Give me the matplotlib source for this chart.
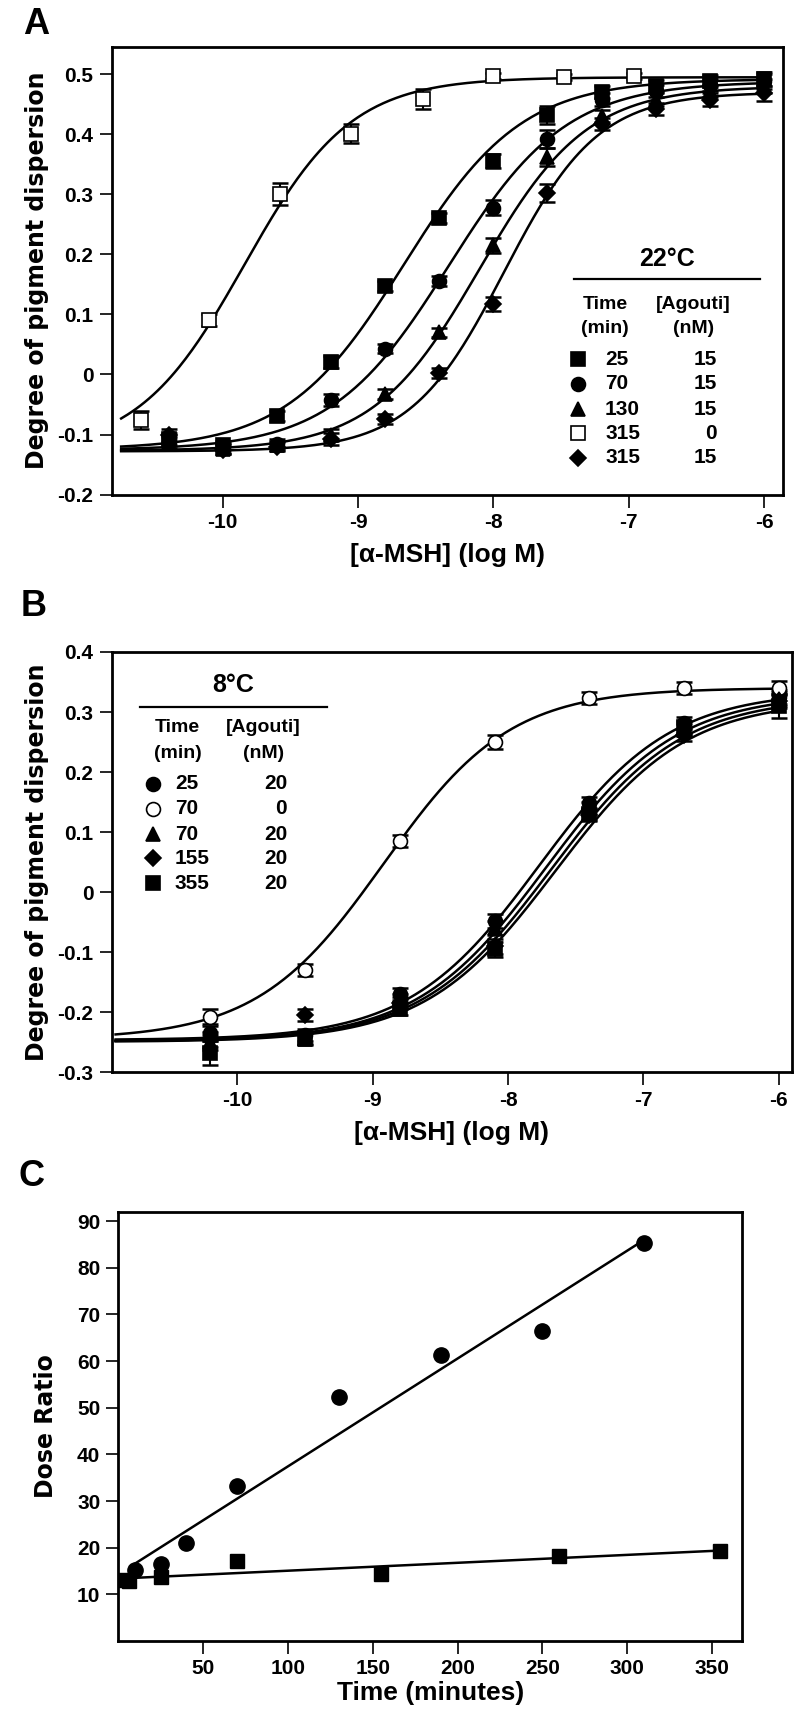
import numpy as np
import matplotlib.pyplot as plt
from matplotlib.ticker import FuncFormatter

plt.rcParams['font.family'] = ['Liberation Sans', 'DejaVu Sans']
plt.rcParams['font.weight'] = 'bold'
plt.rcParams['axes.unicode_minus'] = False

# ---------------- panel A (22 C) ----------------
xa = [-10.4, -10.0, -9.6, -9.2, -8.8, -8.4, -8.0, -7.6, -7.2, -6.8, -6.4, -6.0]
a_sq = [-0.108, -0.118, -0.069, 0.02, 0.147, 0.261, 0.356, 0.433, 0.47, 0.48, 0.488, 0.492]
a_ci = [-0.112, -0.122, -0.115, -0.043, 0.043, 0.156, 0.278, 0.392, 0.458, 0.472, 0.482, 0.488]
a_tr = [-0.115, -0.124, -0.118, -0.1, -0.033, 0.07, 0.215, 0.363, 0.43, 0.458, 0.472, 0.48]
a_di = [-0.1, -0.125, -0.12, -0.108, -0.074, 0.002, 0.117, 0.302, 0.418, 0.442, 0.458, 0.468]
a_err = [0.01, 0.008, 0.008, 0.01, 0.008, 0.008, 0.012, 0.015, 0.01, 0.01, 0.01, 0.012]
xa_open = [-10.6, -10.1, -9.58, -9.05, -8.52, -8.0, -7.48, -6.96]
a_open = [-0.075, 0.09, 0.301, 0.401, 0.459, 0.497, 0.495, 0.497]
a_open_err = [0.015, 0.01, 0.018, 0.016, 0.017, 0.005, 0.005, 0.005]

# fitted curves: bottom, top, logEC50, hill   (order: sq, ci, tr, open, di)
a_bottom = [-0.125, -0.126, -0.127, -0.13, -0.128]
a_top = [0.492, 0.488, 0.48, 0.495, 0.47]
a_ec50 = [-8.66, -8.33, -8.1, -9.84, -7.92]
a_hill = [1.0, 1.0, 1.1, 1.1, 1.25]

a_times = ['25', '70', '130', '315', '315']
a_agouti = ['15', '15', '15', '0', '15']

# ---------------- panel B (8 C) ----------------
xb = [-10.2, -9.5, -8.8, -8.1, -7.4, -6.7, -6.0]
b_ci = [-0.235, -0.237, -0.17, -0.048, 0.148, 0.282, 0.325]
b_open = [-0.207, -0.129, 0.085, 0.25, 0.324, 0.34, 0.34]
b_tr = [-0.25, -0.245, -0.18, -0.06, 0.14, 0.27, 0.322]
b_di = [-0.245, -0.205, -0.185, -0.09, 0.128, 0.262, 0.318]
b_sq = [-0.268, -0.242, -0.195, -0.095, 0.13, 0.275, 0.31]
b_err = [0.012, 0.01, 0.01, 0.012, 0.01, 0.01, 0.012]
b_sq_err = [0.02, 0.01, 0.01, 0.012, 0.01, 0.01, 0.02]

# order: ci, open, tr, di, sq
b_bottom = [-0.246, -0.245, -0.248, -0.248, -0.249]
b_top = [0.335, 0.34, 0.33, 0.325, 0.32]
b_ec50 = [-7.77, -8.92, -7.72, -7.68, -7.65]
b_hill = [0.9, 0.93, 0.9, 0.9, 0.9]

b_times = ['25', '70', '70', '155', '355']
b_agouti = ['20', '0', '20', '20', '20']

# ---------------- panel C ----------------
c_ci_t = [10, 25, 40, 70, 130, 190, 250, 310]
c_ci = [15.3, 16.5, 21.0, 33.3, 52.3, 61.3, 66.5, 85.3]
c_sq_t = [3, 6, 25, 70, 155, 260, 355]
c_sq = [13.0, 12.8, 13.7, 17.1, 14.3, 18.3, 19.3]


def logistic(x, bottom, top, ec50, hill):
    return bottom + (top - bottom) / (1 + 10 ** ((ec50 - x) * hill))


def style_axes(ax):
    for s in ax.spines.values():
        s.set_linewidth(2.0)
    ax.tick_params(direction='out', length=9, width=1.2, labelsize=15, pad=4)
    for lbl in ax.get_xticklabels() + ax.get_yticklabels():
        lbl.set_fontweight('bold')


def fmt_tick(v, pos):
    if abs(v) < 1e-9:
        return '0'
    return f'{v:.1f}'


def legend_block(ax, title, x_mark, x_num, x_ag, y_title, y_line, x_line, y_head, rows_y,
                 markers, times, agouti):
    ax.text(np.mean(x_line), y_title, title, transform=ax.transAxes, ha='center', va='center',
            fontsize=18, fontweight='bold')
    ax.plot(x_line, [y_line, y_line], transform=ax.transAxes, color='k', lw=1.6, clip_on=False)
    xt = (x_mark + x_num) / 2 + 0.02
    ax.text(xt, y_head[0], 'Time', transform=ax.transAxes, ha='center', va='center', fontsize=14, fontweight='bold')
    ax.text(xt, y_head[1], '(min)', transform=ax.transAxes, ha='center', va='center', fontsize=14, fontweight='bold')
    ax.text(x_ag - 0.035, y_head[0], '[Agouti]', transform=ax.transAxes, ha='center', va='center', fontsize=14, fontweight='bold')
    ax.text(x_ag - 0.035, y_head[1], '(nM)', transform=ax.transAxes, ha='center', va='center', fontsize=14, fontweight='bold')
    for (m, fc), t, a, yy in zip(markers, times, agouti, rows_y):
        ax.plot([x_mark], [yy], transform=ax.transAxes, marker=m, ms=10 if m != 'D' else 8,
                mfc=fc, mec='k', mew=1.2, ls='none', clip_on=False)
        ax.text(x_num, yy, t, transform=ax.transAxes, ha='left', va='center', fontsize=15, fontweight='bold')
        ax.text(x_ag, yy, a, transform=ax.transAxes, ha='right', va='center', fontsize=15, fontweight='bold')


fig = plt.figure(figsize=(8, 17.22), dpi=100)

# ================= A =================
axA = fig.add_axes([0.1396, 0.7128, 0.8391, 0.2601])
xx = np.linspace(-10.75, -6.0, 300)
a_series = [(a_sq, 's', 'k', a_err), (a_ci, 'o', 'k', a_err), (a_tr, '^', 'k', a_err),
            (a_open, 's', 'white', a_open_err), (a_di, 'D', 'k', a_err)]
for i, (yv, m, fc, err) in enumerate(a_series):
    axA.plot(xx, logistic(xx, a_bottom[i], a_top[i], a_ec50[i], a_hill[i]), color='k', lw=1.8, zorder=2)
    xs = xa_open if fc == 'white' else xa
    axA.errorbar(xs, yv, yerr=err, fmt='none', ecolor='k', elinewidth=1.5, capsize=6, capthick=1.8, zorder=3)
    axA.plot(xs, yv, ls='none', marker=m, ms=10 if m != 'D' else 8, mfc=fc, mec='k', mew=1.2, zorder=4)

axA.set_xlim(-10.82, -5.86)
axA.set_ylim(-0.2, 0.546)
axA.set_xticks([-10, -9, -8, -7, -6])
axA.set_yticks([-0.2, -0.1, 0, 0.1, 0.2, 0.3, 0.4, 0.5])
axA.yaxis.set_major_formatter(FuncFormatter(fmt_tick))
axA.set_xticklabels(['-10', '-9', '-8', '-7', '-6'])
style_axes(axA)
axA.set_xlabel('[\u03b1-MSH] (log M)', fontsize=19, fontweight='bold', labelpad=8)
axA.set_ylabel('Degree of pigment dispersion', fontsize=17, fontweight='bold',
               family=['DejaVu Sans'], labelpad=6)

legend_block(axA, '22\u00b0C', 0.695, 0.735, 0.902, 0.526, 0.481, [0.689, 0.966],
             [0.425, 0.370], [0.302, 0.247, 0.191, 0.137, 0.082],
             [('s', 'k'), ('o', 'k'), ('^', 'k'), ('s', 'white'), ('D', 'k')],
             a_times, a_agouti)

# ================= B =================
axB = fig.add_axes([0.1394, 0.3772, 0.851, 0.2442])
xx = np.linspace(-10.9, -6.0, 300)
b_series = [(b_ci, 'o', 'k', b_err), (b_open, 'o', 'white', b_err), (b_tr, '^', 'k', b_err),
            (b_di, 'D', 'k', b_err), (b_sq, 's', 'k', b_sq_err)]
for i, (yv, m, fc, err) in enumerate(b_series):
    axB.plot(xx, logistic(xx, b_bottom[i], b_top[i], b_ec50[i], b_hill[i]), color='k', lw=1.8, zorder=2)
    axB.errorbar(xb, yv, yerr=err, fmt='none', ecolor='k', elinewidth=1.5, capsize=6, capthick=1.8, zorder=3)
    axB.plot(xb, yv, ls='none', marker=m, ms=10 if m != 'D' else 8, mfc=fc, mec='k', mew=1.2, zorder=4)

axB.set_xlim(-10.93, -5.9)
axB.set_ylim(-0.3, 0.4)
axB.set_xticks([-10, -9, -8, -7, -6])
axB.set_xticklabels(['-10', '-9', '-8', '-7', '-6'])
axB.set_yticks([-0.3, -0.2, -0.1, 0, 0.1, 0.2, 0.3, 0.4])
axB.yaxis.set_major_formatter(FuncFormatter(fmt_tick))
style_axes(axB)
axB.set_xlabel('[\u03b1-MSH] (log M)', fontsize=19, fontweight='bold', labelpad=8)
axB.set_ylabel('Degree of pigment dispersion', fontsize=17, fontweight='bold',
               family=['DejaVu Sans'], labelpad=6)

legend_block(axB, '8\u00b0C', 0.061, 0.093, 0.258, 0.921, 0.869, [0.042, 0.316],
             [0.821, 0.759], [0.686, 0.627, 0.567, 0.510, 0.450],
             [('o', 'k'), ('o', 'white'), ('^', 'k'), ('D', 'k'), ('s', 'k')],
             b_times, b_agouti)

# ================= C =================
axC = fig.add_axes([0.148, 0.047, 0.78, 0.2493])
for t, y, m in [(c_ci_t, c_ci, 'o'), (c_sq_t, c_sq, 's')]:
    slope, icpt = np.polyfit(t, y, 1)
    tt = np.array([min(t), max(t)])
    axC.plot(tt, slope * tt + icpt, color='k', lw=1.8, zorder=2)
    axC.plot(t, y, ls='none', marker=m, ms=11 if m == 'o' else 10, mfc='k', mec='k', zorder=3)

axC.set_xlim(0, 368)
axC.set_ylim(0, 92)
axC.set_xticks([50, 100, 150, 200, 250, 300, 350])
axC.set_yticks([10, 20, 30, 40, 50, 60, 70, 80, 90])
style_axes(axC)
axC.set_xlabel('Time (minutes)', fontsize=19, fontweight='bold', labelpad=2)
axC.set_ylabel('Dose Ratio', fontsize=17, fontweight='bold', family=['DejaVu Sans'], labelpad=14)

# panel letters
fig.text(36 / 800, 1 - 24 / 1722, 'A', ha='center', va='center', fontsize=26, fontweight='bold')
fig.text(34 / 800, 1 - 606 / 1722, 'B', ha='center', va='center', fontsize=26, fontweight='bold')
fig.text(32 / 800, 1 - 1176 / 1722, 'C', ha='center', va='center', fontsize=26, fontweight='bold')

fig.savefig('out.png', dpi=100)
